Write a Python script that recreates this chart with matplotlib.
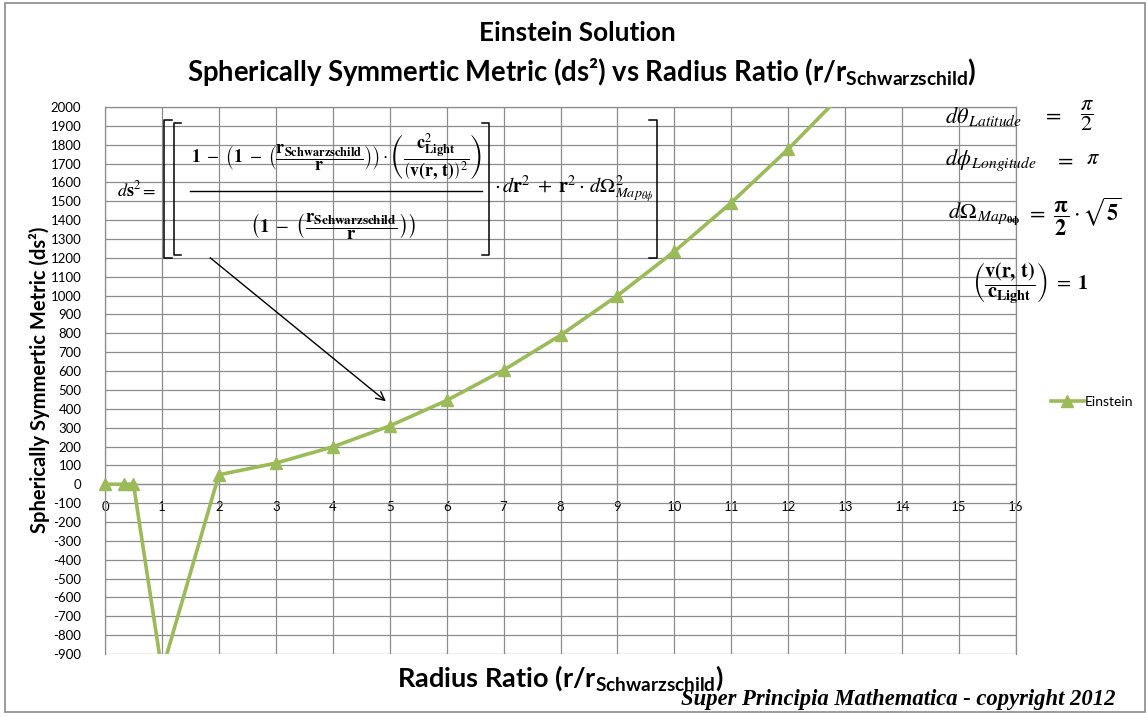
import numpy as np
import matplotlib
matplotlib.use("Agg")
import matplotlib.pyplot as plt
from matplotlib.patches import Rectangle, FancyArrowPatch
from matplotlib.lines import Line2D

# ---------------- data ----------------
radius_ratio = [0, 0.33, 0.5, 1, 2, 3, 4, 5, 6, 7, 8, 9, 10, 11, 12, 13]
ds2_values = [0, 0, 1, -990, 50, 112, 198, 309, 444, 605, 790, 1000, 1234, 1493, 1777, 2085]
series_name = "Einstein"
x_ticks = list(range(0, 17))
y_ticks = list(range(-900, 2001, 100))

title1 = "Einstein Solution"
title2 = r"Spherically Symmertic Metric (ds²) vs Radius Ratio (r/r$_{\mathrm{Schwarzschild}}$)"
xlabel = r"Radius Ratio (r/r$_{\mathrm{Schwarzschild}}$)"
ylabel = "Spherically Symmertic Metric (ds²)"
copyright_text = "Super Principia Mathematica - copyright 2012"

# ---------------- style ----------------
W, H = 1146, 717
plt.rcParams["font.family"] = ["Lato", "DejaVu Sans"]
plt.rcParams["mathtext.fontset"] = "custom"
plt.rcParams["mathtext.rm"] = "Lato:bold"
plt.rcParams["mathtext.it"] = "Lato:bold:italic"
plt.rcParams["mathtext.bf"] = "Lato:bold"

GREEN = "#9BBB59"
GRID = "#8c8c8c"

fig = plt.figure(figsize=(W / 100, H / 100), dpi=100)
fig.patch.set_facecolor("white")


def fx(x):
    return x / W


def fy(y):
    return 1 - y / H


# outer chart border
fig.add_artist(Rectangle((fx(5), fy(712)), fx(1140), 709 / H, transform=fig.transFigure,
                         fill=False, edgecolor="#8a8a8a", lw=1.2))

ax = fig.add_axes([fx(105), fy(654), fx(1016) - fx(105), fy(107) - fy(654)])
ax.set_xlim(0, 16)
ax.set_ylim(-900, 2000)
ax.set_xticks(x_ticks)
ax.set_yticks(y_ticks)
ax.set_xticklabels([str(t) for t in x_ticks])
ax.set_yticklabels([str(t) for t in y_ticks])
ax.grid(True, color=GRID, lw=0.9)
ax.set_axisbelow(True)
for s in ["top", "right", "left"]:
    ax.spines[s].set_color(GRID)
    ax.spines[s].set_linewidth(0.9)
ax.spines["bottom"].set_position(("data", 0))
ax.spines["bottom"].set_color(GRID)
ax.spines["bottom"].set_linewidth(0.9)
ax.tick_params(axis="x", length=0, pad=12, labelsize=9.5, colors="black")
ax.tick_params(axis="y", length=0, pad=17, labelsize=9.5, colors="black")

xv = np.array(radius_ratio, dtype=float)
yv = np.array(ds2_values, dtype=float)
ax.plot(xv, yv, color=GREEN, lw=2.6, solid_joinstyle="round", zorder=3)
inside = (yv >= -900) & (yv <= 2000)
ax.plot(xv[inside], yv[inside], ls="none", marker="^", ms=9, color=GREEN,
        clip_on=False, zorder=4)
handle, = ax.plot([], [], color=GREEN, lw=2.6, marker="^", ms=9, label=series_name)
ax.legend(handles=[handle], loc="center left", bbox_to_anchor=(fx(1038), fy(402)),
          bbox_transform=fig.transFigure, frameon=False, handlelength=2.4,
          handletextpad=0.1, fontsize=10)

# titles and axis labels
fig.text(fx(577), fy(33), title1, ha="center", va="center", fontsize=18.8, fontweight="bold")
fig.text(fx(582), fy(72), title2, ha="center", va="center", fontsize=19.8, fontweight="bold")
fig.text(fx(560), fy(678), xlabel, ha="center", va="center", fontsize=19.5, fontweight="bold")
fig.text(fx(40), fy(380), ylabel, ha="center", va="center", rotation=90,
         fontsize=14.5, fontweight="bold")
fig.text(fx(898), fy(699), copyright_text, ha="center", va="center",
         family="Liberation Serif", style="italic", fontweight="bold", fontsize=16.3)

# ---------------- main formula, assembled from pieces ----------------
MF = dict(math_fontfamily="stix", color="black")
fig.text(fx(117), fy(189), r"$d\mathbf{s}^2 =$", ha="left", va="center", fontsize=13, **MF)
numerator = (r"$\mathbf{1}\ -\ \left(\mathbf{1}\ -\ \left(\dfrac{\mathbf{r}_{\mathbf{Schwarzschild}}}{\mathbf{r}}\right)\right)"
             r"\cdot\left(\dfrac{\mathbf{c}^2_{\mathbf{Light}}}{\left(\mathbf{v(r,\,t)}\right)^2}\right)$")
denominator = r"$\left(\mathbf{1}\ -\ \left(\dfrac{\mathbf{r}_{\mathbf{Schwarzschild}}}{\mathbf{r}}\right)\right)$"
fig.text(fx(336), fy(157), numerator, ha="center", va="center", fontsize=12.8, **MF)
fig.text(fx(333), fy(227), denominator, ha="center", va="center", fontsize=13.5, **MF)
fig.add_artist(Line2D([fx(190), fx(482)], [fy(191), fy(191)], transform=fig.transFigure,
                      color="black", lw=1))
fig.text(fx(494), fy(189), r"$\cdot\, d\mathbf{r}^2\ +\ \mathbf{r}^2\cdot\, d\Omega^2_{Map_{\theta\phi}}$",
         ha="left", va="center", fontsize=14.5, **MF)


def bracket(x, top, bottom, serif, lw=1.1):
    fig.add_artist(Line2D([fx(x + serif), fx(x), fx(x), fx(x + serif)],
                          [fy(top), fy(top), fy(bottom), fy(bottom)],
                          transform=fig.transFigure, color="black", lw=lw))


bracket(164, 120, 258, 8)
bracket(174, 123, 255, 7)
bracket(489, 123, 255, -7)
bracket(657, 120, 258, -8)

# ---------------- side formulas ----------------
fs = 16
fig.text(fx(945), fy(116), r"$d\theta_{\,Latitude}$", ha="left", va="center", fontsize=fs, **MF)
fig.text(fx(1052), fy(115), r"$=$", ha="center", va="center", fontsize=fs, **MF)
fig.text(fx(1087), fy(116), r"$\dfrac{\pi}{2}$", ha="center", va="center", fontsize=fs, **MF)
fig.text(fx(945), fy(160), r"$d\phi_{\,Longitude}$", ha="left", va="center", fontsize=fs, **MF)
fig.text(fx(1064), fy(160), r"$=$", ha="center", va="center", fontsize=fs, **MF)
fig.text(fx(1093), fy(158), r"$\pi$", ha="center", va="center", fontsize=fs, **MF)
fig.text(fx(948), fy(214), r"$d\Omega_{\,Map_{\mathbf{\theta\phi}}}$", ha="left", va="center",
         fontsize=fs, **MF)
fig.text(fx(1026), fy(217), r"$=\ \dfrac{\mathbf{\pi}}{\mathbf{2}}\cdot\sqrt{\mathbf{5}}$",
         ha="left", va="center", fontsize=fs, **MF)
fig.text(fx(972), fy(283), r"$\left(\dfrac{\mathbf{v(r,\,t)}}{\mathbf{c}_{\mathbf{Light}}}\right)\ =\ \mathbf{1}$",
         ha="left", va="center", fontsize=14.5, **MF)

# arrow pointing at the curve
fig.add_artist(FancyArrowPatch(
    (fx(208), fy(256)), (fx(388), fy(403)), transform=fig.transFigure,
    arrowstyle="->,head_length=6,head_width=3", color="black", lw=1))

fig.savefig("out.png", dpi=100, facecolor="white")
